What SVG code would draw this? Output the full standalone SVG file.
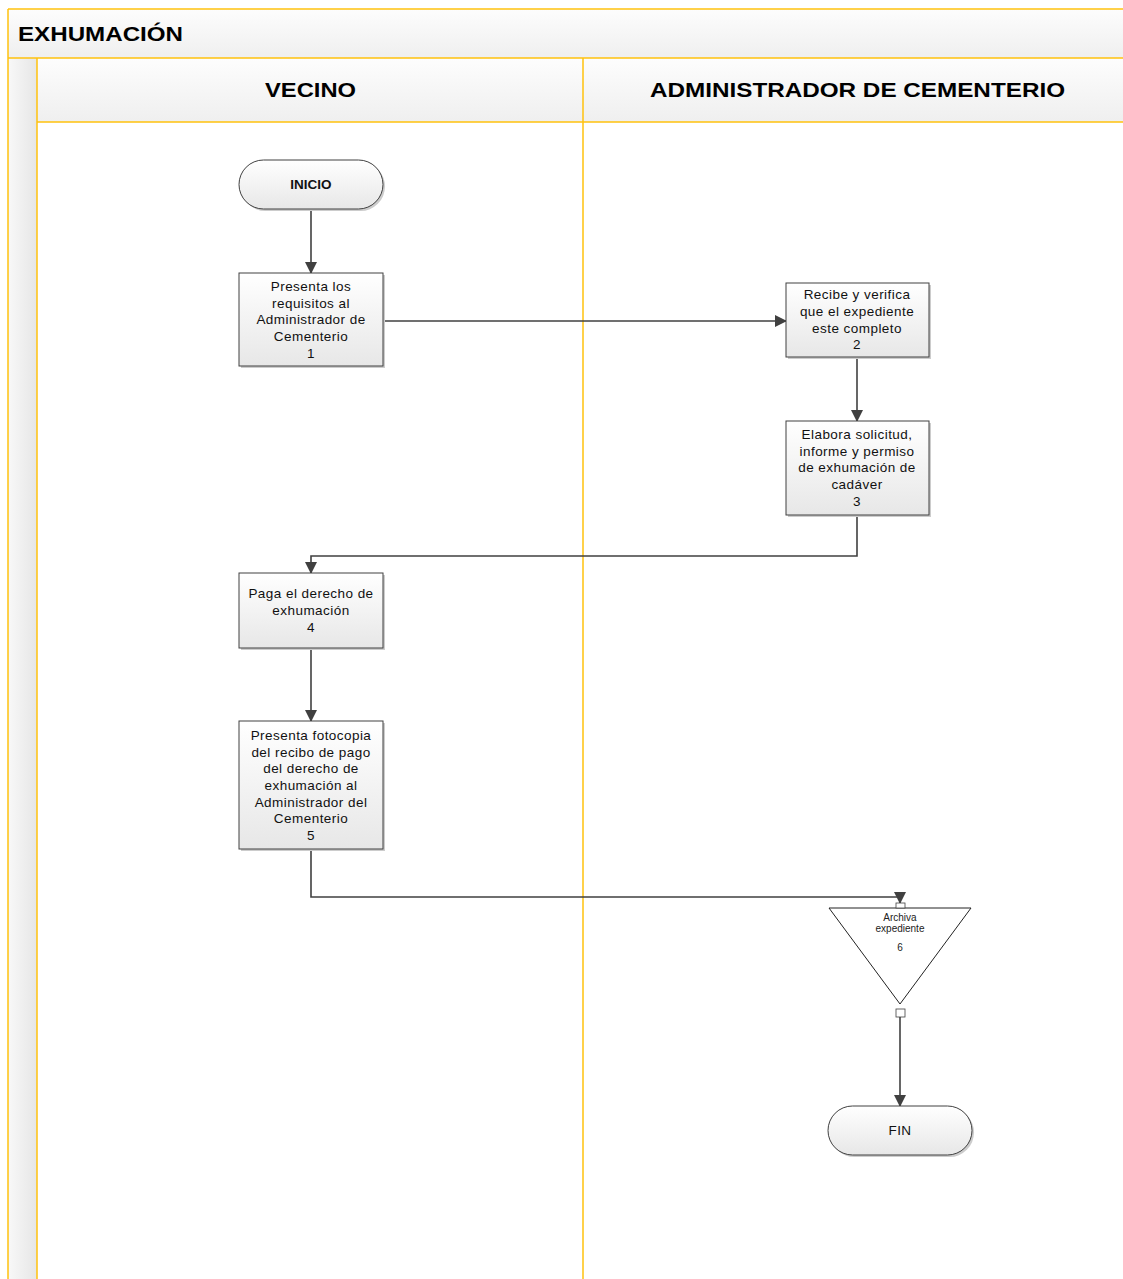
<svg xmlns="http://www.w3.org/2000/svg" width="1123" height="1279" viewBox="0 0 1123 1279">
  <defs>
    <linearGradient id="band" x1="0" y1="0" x2="0" y2="1">
      <stop offset="0" stop-color="#fdfdfd"/>
      <stop offset="1" stop-color="#efefef"/>
    </linearGradient>
    <linearGradient id="side" x1="0" y1="0" x2="1" y2="0">
      <stop offset="0" stop-color="#f8f8f8"/>
      <stop offset="1" stop-color="#e6e6e6"/>
    </linearGradient>
    <linearGradient id="boxfill" x1="0" y1="0" x2="0" y2="1">
      <stop offset="0" stop-color="#ffffff"/>
      <stop offset="1" stop-color="#e7e7e7"/>
    </linearGradient>
    <marker id="arrow" viewBox="0 0 12 12" refX="11" refY="6" markerWidth="12" markerHeight="12" markerUnits="userSpaceOnUse" orient="auto">
      <path d="M0,0 L12,6 L0,12 Z" fill="#404040"/>
    </marker>
    <style>
      .lane { stroke: #ffc20e; stroke-width: 1.5; fill: none; }
      .hdr { font-family: "Liberation Sans", Arial, sans-serif; font-weight: bold; font-size: 21px; fill: #000; }
      .box { fill: url(#boxfill); stroke: #404040; stroke-width: 1; }
      .shadow { fill: #cccccc; }
      .txt { font-family: "Liberation Sans", Arial, sans-serif; font-size: 13.5px; letter-spacing: 0.45px; fill: #111; text-anchor: middle; }
      .small { font-family: "Liberation Sans", Arial, sans-serif; font-size: 10px; fill: #222; text-anchor: middle; }
      .term { font-family: "Liberation Sans", Arial, sans-serif; font-size: 13.5px; font-weight: bold; fill: #111; text-anchor: middle; }
      .conn { stroke: #404040; stroke-width: 1.6; fill: none; }
    </style>
  </defs>

  <rect width="1123" height="1279" fill="#ffffff"/>

  <!-- pool frame, title band, lane headers -->
  <g id="pool">
    <rect x="8" y="9" width="1130" height="49" fill="url(#band)"/>
    <rect x="8" y="58" width="29" height="1230" fill="url(#side)"/>
    <rect x="37" y="58" width="1100" height="64" fill="url(#band)"/>
    <line class="lane" x1="8" y1="9" x2="1123" y2="9"/>
    <line class="lane" x1="8" y1="9" x2="8" y2="1279"/>
    <line class="lane" x1="8" y1="58" x2="1123" y2="58"/>
    <line class="lane" x1="37" y1="58" x2="37" y2="1279"/>
    <line class="lane" x1="37" y1="122" x2="1123" y2="122"/>
    <line class="lane" x1="583" y1="58" x2="583" y2="1279"/>
    <text class="hdr" x="18" y="41" textLength="165" lengthAdjust="spacingAndGlyphs">EXHUMACIÓN</text>
    <text class="hdr" x="265" y="97" textLength="91" lengthAdjust="spacingAndGlyphs">VECINO</text>
    <text class="hdr" x="650" y="97" textLength="415" lengthAdjust="spacingAndGlyphs">ADMINISTRADOR DE CEMENTERIO</text>
  </g>

  <!-- connectors -->
  <g id="connectors">
    <path class="conn" d="M311,209 L311,273" marker-end="url(#arrow)"/>
    <path class="conn" d="M383,321 L786,321" marker-end="url(#arrow)"/>
    <path class="conn" d="M857,357 L857,421" marker-end="url(#arrow)"/>
    <path class="conn" d="M857,515 L857,556 L311,556 L311,573" marker-end="url(#arrow)"/>
    <path class="conn" d="M311,648 L311,721" marker-end="url(#arrow)"/>
    <path class="conn" d="M311,849 L311,897 L900,897 L900,903" marker-end="url(#arrow)"/>
    <path class="conn" d="M900,1017 L900,1106" marker-end="url(#arrow)"/>
  </g>

  <g id="inicio">
    <rect class="shadow" x="241" y="162" width="144" height="49" rx="24.5"/>
    <rect class="box" x="239" y="160" width="144" height="49" rx="24.5"/>
    <text class="term" x="311" y="189">INICIO</text>
  </g>

  <g id="step1">
    <rect class="shadow" x="241" y="275" width="144" height="93"/>
    <rect class="box" x="239" y="273" width="144" height="93"/>
    <text class="txt" x="311" y="291">Presenta los</text>
    <text class="txt" x="311" y="308">requisitos al</text>
    <text class="txt" x="311" y="324">Administrador de</text>
    <text class="txt" x="311" y="341">Cementerio</text>
    <text class="txt" x="311" y="358">1</text>
  </g>

  <g id="step2">
    <rect class="shadow" x="788" y="285" width="143" height="74"/>
    <rect class="box" x="786" y="283" width="143" height="74"/>
    <text class="txt" x="857" y="299">Recibe y verifica</text>
    <text class="txt" x="857" y="316">que el expediente</text>
    <text class="txt" x="857" y="333">este completo</text>
    <text class="txt" x="857" y="349">2</text>
  </g>

  <g id="step3">
    <rect class="shadow" x="788" y="423" width="143" height="94"/>
    <rect class="box" x="786" y="421" width="143" height="94"/>
    <text class="txt" x="857" y="439">Elabora solicitud,</text>
    <text class="txt" x="857" y="456">informe y permiso</text>
    <text class="txt" x="857" y="472">de exhumación de</text>
    <text class="txt" x="857" y="489">cadáver</text>
    <text class="txt" x="857" y="506">3</text>
  </g>

  <g id="step4">
    <rect class="shadow" x="241" y="575" width="144" height="75"/>
    <rect class="box" x="239" y="573" width="144" height="75"/>
    <text class="txt" x="311" y="598">Paga el derecho de</text>
    <text class="txt" x="311" y="615">exhumación</text>
    <text class="txt" x="311" y="632">4</text>
  </g>

  <g id="step5">
    <rect class="shadow" x="241" y="723" width="144" height="128"/>
    <rect class="box" x="239" y="721" width="144" height="128"/>
    <text class="txt" x="311" y="740">Presenta fotocopia</text>
    <text class="txt" x="311" y="757">del recibo de pago</text>
    <text class="txt" x="311" y="773">del derecho de</text>
    <text class="txt" x="311" y="790">exhumación al</text>
    <text class="txt" x="311" y="807">Administrador del</text>
    <text class="txt" x="311" y="823">Cementerio</text>
    <text class="txt" x="311" y="840">5</text>
  </g>

  <g id="step6">
    <polygon points="829,908 971,908 900,1004" fill="#ffffff" stroke="#222" stroke-width="1"/>
    <rect x="896" y="903" width="9" height="5" fill="#ffffff" stroke="#404040" stroke-width="0.8"/>
    <rect x="896" y="1009" width="9" height="8" fill="#ffffff" stroke="#404040" stroke-width="0.8"/>
    <text class="small" x="900" y="921">Archiva</text>
    <text class="small" x="900" y="932">expediente</text>
    <text class="small" x="900" y="951">6</text>
  </g>

  <g id="fin">
    <rect class="shadow" x="830" y="1108" width="144" height="49" rx="24.5"/>
    <rect class="box" x="828" y="1106" width="144" height="49" rx="24.5"/>
    <text class="txt" x="900" y="1135">FIN</text>
  </g>
</svg>
